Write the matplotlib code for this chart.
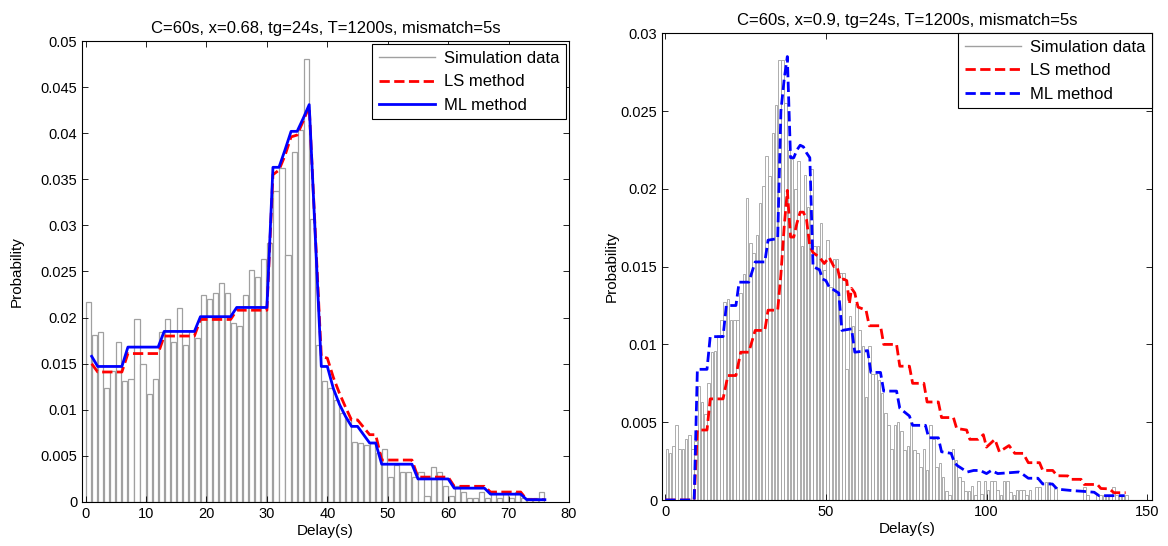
import matplotlib
matplotlib.use("Agg")
import matplotlib.pyplot as plt
from matplotlib.ticker import FuncFormatter
import numpy as np

plt.rcParams['font.family'] = ['Liberation Sans', 'DejaVu Sans']

# ---- left panel: x=0.68 ----
left_title = "C=60s, x=0.68, tg=24s, T=1200s, mismatch=5s"
# simulated histogram, bins [k-1, k], k = 1..76 (values in 1e-3)
left_hist = [21.7, 18.1, 18.4, 12.4, 14.2, 17.4, 13.1, 13.3, 19.8, 15.0,
             11.7, 13.3, 18.4, 19.8, 17.4, 21.0, 17.0, 18.5, 17.8, 22.4,
             22.0, 22.7, 23.7, 22.7, 19.4, 19.1, 22.4, 25.2, 24.4, 26.4,
             28.1, 33.7, 36.2, 26.8, 38.0, 40.4, 48.1, 30.7, 17.0, 13.1,
             12.4, 11.1, 9.6, 9.0, 6.5, 6.4, 6.2, 6.4, 5.3, 5.7,
             2.7, 4.0, 3.3, 3.3, 2.7, 3.3, 0.65, 3.8, 3.3, 1.7,
             0.65, 1.7, 1.1, 0.4, 0.4, 1.1, 0.4, 1.1, 0.4, 1.1,
             0.4, 1.1, 0.4, 0.4, 0.4, 1.1]
left_x = list(range(1, 77))
left_ls = [15.0, 14.1, 14.1, 14.1, 14.1, 14.1, 16.1, 16.1, 16.1, 16.1,
           16.1, 16.1, 18.0, 18.0, 18.0, 18.0, 18.0, 18.0, 19.8, 19.8,
           19.8, 19.8, 19.8, 19.8, 20.8, 20.8, 20.8, 20.8, 20.8, 20.8,
           35.5, 36.0, 37.6, 39.6, 39.8, 41.3, 42.9, 29.3, 15.8, 15.6,
           13.5, 11.8, 10.3, 8.9, 8.9, 8.1, 7.3, 7.3, 4.55, 4.55,
           4.55, 4.55, 4.55, 4.55, 2.7, 2.7, 2.7, 2.7, 2.7, 2.7,
           1.7, 1.7, 1.7, 1.7, 1.7, 1.7, 1.08, 1.08, 1.08, 1.08,
           1.08, 1.08, 0.25, 0.25, 0.25, 0.25]
left_ml = [15.8, 14.7, 14.7, 14.7, 14.7, 14.7, 16.8, 16.8, 16.8, 16.8,
           16.8, 16.8, 18.5, 18.5, 18.5, 18.5, 18.5, 18.5, 20.1, 20.1,
           20.1, 20.1, 20.1, 20.1, 21.1, 21.1, 21.1, 21.1, 21.1, 21.1,
           36.3, 36.3, 38.2, 40.2, 40.2, 41.6, 43.1, 28.9, 14.7, 14.7,
           12.3, 10.6, 9.3, 8.2, 8.2, 7.3, 6.4, 6.4, 4.1, 4.1,
           4.1, 4.1, 4.1, 4.1, 2.5, 2.5, 2.5, 2.5, 2.5, 2.5,
           1.5, 1.5, 1.5, 1.5, 1.5, 1.5, 0.85, 0.85, 0.85, 0.85,
           0.85, 0.85, 0.25, 0.25, 0.25, 0.25]

# ---- right panel: x=0.9 ----
right_title = "C=60s, x=0.9, tg=24s, T=1200s, mismatch=5s"
right_hist = [3.3, 3.0, 3.5, 4.8, 3.3, 3.3, 3.9, 4.2, 3.3, 3.8,
              7.3, 6.3, 5.5, 7.5, 9.5, 9.6, 10.6, 11.6, 12.7, 12.9,
              11.6, 11.6, 11.6, 13.3, 14.5, 19.4, 16.5, 15.9, 17.0, 19.1,
              20.2, 22.1, 20.8, 23.6, 25.4, 28.3, 28.3, 25.5, 22.5, 21.9,
              20.0, 21.8, 16.3, 20.9, 18.8, 21.3, 16.3, 16.3, 17.8, 14.8,
              16.7, 13.7, 15.5, 15.5, 14.6, 14.6, 8.4, 11.8, 11.2, 12.6,
              10.9, 9.9, 6.6, 9.9, 8.1, 8.1, 7.7, 6.9, 5.6, 4.8,
              3.3, 4.8, 5.0, 4.45, 3.2, 3.5, 5.0, 3.2, 3.0, 2.1,
              3.3, 1.9, 4.8, 3.9, 2.1, 2.4, 1.45, 0.6, 0.3, 3.3,
              2.6, 1.5, 1.2, 0.6, 0.6, 0.9, 0.3, 1.2, 0.4, 1.2,
              0.64, 1.2, 1.2, 0.64, 0.32, 1.2, 1.2, 0.5, 0.32, 0.64,
              0.64, 0.64, 0.32, 0.64, 0.0, 0.86, 0.86, 0.0, 1.18, 1.18,
              0.0, 0.86, 0.0, 0.0, 0.0, 0.0, 0.0, 0.0, 0.0, 0.0,
              0.86, 0.32, 0.0, 0.0, 0.32, 0.32, 0.32, 0.32, 0.32, 0.86,
              0.32, 0.32, 0.32, 0.32]
right_ls_x = [0, 9, 10, 13, 14, 18, 19.5, 22, 23.5, 26, 28, 31, 32, 35, 36, 37, 38,
              39, 40, 41, 42, 43, 44, 45, 46, 48, 49.5, 51, 52.5, 53.5, 54.5,
              55.5, 56.5, 57.3, 58, 59, 60, 62.5, 63.5, 67, 68, 72, 73, 76, 77,
              80.5, 81.5, 85, 86, 89.7, 90.7, 93.8, 94.8, 97.4, 99, 100, 102.6,
              104, 107, 108.8, 111.4, 113, 116.5, 117.5, 120.6, 122, 125.3, 126.3,
              129.4, 130.4, 134.5, 135.6, 138.1, 139.7, 143.3]
right_ls_y = [0, 0, 4.5, 4.5, 6.5, 6.5, 8.0, 8.0, 9.5, 9.5, 10.9, 10.9, 12.2, 12.2,
              14.5, 17.5, 19.9, 16.9, 16.9, 17.8, 18.5, 18.5, 18.0, 16.3, 15.9,
              15.6, 15.2, 15.6, 15.0, 15.0, 14.1, 14.2, 14.1, 12.6, 13.6, 13.3,
              12.4, 12.2, 11.2, 11.2, 10.0, 10.0, 8.6, 8.6, 7.5, 7.5, 6.3, 6.3,
              5.3, 5.3, 4.6, 4.5, 3.9, 3.9, 4.2, 3.4, 3.9, 3.1, 3.5, 3.0, 3.0,
              2.4, 2.4, 1.9, 1.9, 1.56, 1.55, 1.33, 1.33, 1.0, 1.0, 0.74, 0.72,
              0.47, 0.47]
right_ml_x = [0, 9, 10, 13, 14, 18, 19, 22, 23, 26, 28, 31, 32, 35, 36, 37, 38,
              39, 40, 41, 42, 43, 44, 45, 46, 48, 49, 50, 51, 54, 55, 58, 59, 63,
              64, 67, 68, 72, 73, 76, 77, 81, 82, 85, 86, 89, 90, 91, 94, 96, 98,
              100, 101.5, 103.5, 110, 111, 113, 116, 117.5, 120.5, 122, 127, 130,
              133.5, 135, 143]
right_ml_y = [0, 0, 8.4, 8.4, 10.5, 10.5, 12.5, 12.5, 14.0, 14.0, 15.3, 15.3,
              16.7, 16.8, 25.0, 27.0, 28.5, 22.0, 22.0, 22.5, 22.8, 22.7, 22.3,
              22.0, 15.0, 14.8, 14.2, 14.1, 13.7, 13.3, 10.9, 11.0, 9.5, 9.6,
              8.2, 8.2, 7.0, 7.0, 5.9, 5.4, 4.8, 4.8, 4.0, 4.0, 3.1, 3.0, 2.4,
              2.2, 1.8, 1.9, 1.9, 1.7, 1.9, 1.7, 1.8, 1.7, 1.4, 1.4, 1.03, 1.03,
              0.7, 0.6, 0.56, 0.5, 0.28, 0.28]

gray = '#a0a0a0'

fig = plt.figure(figsize=(11.68, 5.46), dpi=100)
ax1 = fig.add_axes([0.0702, 0.0806, 0.417, 0.8443])
ax2 = fig.add_axes([0.5668, 0.0842, 0.4195, 0.855])


def style(ax, title, ypad):
    ax.set_title(title, fontsize=12, pad=6)
    ax.set_xlabel("Delay(s)", fontsize=11, labelpad=2)
    ax.set_ylabel("Probability", fontsize=11, labelpad=ypad)
    ax.tick_params(direction='in', top=True, right=True, labelsize=10.5,
                   length=4, width=0.6)
    ax.yaxis.set_major_formatter(FuncFormatter(lambda v, p: "%g" % round(v, 4)))
    for s in ax.spines.values():
        s.set_linewidth(0.8)


def add_legend(ax, ls, ml, pad):
    sim = plt.Line2D([], [], color=gray, lw=1)
    leg = ax.legend([sim, ls, ml], ['Simulation data', 'LS method', 'ML method'],
                    loc='upper right', fontsize=12, fancybox=False,
                    edgecolor='black', framealpha=1, borderaxespad=pad,
                    handlelength=3.4, borderpad=0.4, labelspacing=0.5,
                    handletextpad=0.5)
    leg.get_frame().set_linewidth(0.8)


# left
lc = np.array(left_x) - 0.5
ax1.bar(lc, np.array(left_hist) / 1000, width=0.85, color='white',
        edgecolor=gray, linewidth=0.9)
l1, = ax1.plot(left_x, np.array(left_ls) / 1000, 'r--', lw=2)
m1, = ax1.plot(left_x, np.array(left_ml) / 1000, 'b-', lw=2)
ax1.set_xlim(-0.6, 80)
ax1.set_ylim(0, 0.05)
ax1.set_xticks(range(0, 81, 10))
ax1.set_yticks(np.arange(0, 0.0501, 0.005))
style(ax1, left_title, 12)
add_legend(ax1, l1, m1, 0.2)

# right
rc = np.arange(1, len(right_hist) + 1) - 0.5
ax2.bar(rc, np.array(right_hist) / 1000, width=0.8, color='white',
        edgecolor=gray, linewidth=0.6)
l2, = ax2.plot(right_ls_x, np.array(right_ls_y) / 1000, 'r--', lw=2)
m2, = ax2.plot(right_ml_x, np.array(right_ml_y) / 1000, 'b--', lw=2)
ax2.set_xlim(-1, 151.5)
ax2.set_ylim(0, 0.03)
ax2.set_xticks([0, 50, 100, 150])
ax2.set_yticks(np.arange(0, 0.0301, 0.005))
style(ax2, right_title, 1)
add_legend(ax2, l2, m2, 0.0)

fig.savefig("out.png", dpi=100)
